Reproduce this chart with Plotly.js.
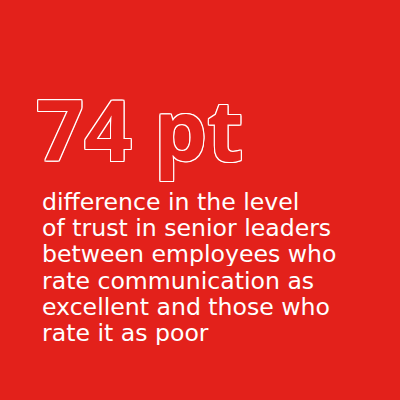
<!DOCTYPE html>
<html>
<head>
<meta charset="utf-8">
<script src="https://cdn.plot.ly/plotly-3.0.1.min.js"></script>
<style>html,body{margin:0;padding:0;background:#e3211b;}#chart{width:400px;height:400px;}</style>
</head>
<body>
<div id="chart"></div>
<script>
// Data
const statValue = 74;
const statUnit = "pt";
const descriptionLines = [
  "difference in the level",
  "of trust in senior leaders",
  "between employees who",
  "rate communication as",
  "excellent and those who",
  "rate it as poor"
];

const W = 400, H = 400;
const bg = "#e3211b";
const py = px => 1 - px / H;

const outline = "1px 0 0 #fff, -1px 0 0 #fff, 0 1px 0 #fff, 0 -1px 0 #fff, 1px 1px 0 #fff, -1px -1px 0 #fff, 1px -1px 0 #fff, -1px 1px 0 #fff";

const annotations = [];
annotations.push({
  xref: "paper", yref: "paper", x: 34 / W, y: py(128),
  xanchor: "left", yanchor: "middle", showarrow: false,
  text: "<b>" + statValue + " " + statUnit + "</b>",
  font: { family: "Open Sans, sans-serif", size: 84, color: bg, shadow: outline }
});
const lineStart = 202, lineStep = 26.2;
descriptionLines.forEach((t, i) => {
  annotations.push({
    xref: "paper", yref: "paper", x: 40 / W, y: py(lineStart + i * lineStep),
    xanchor: "left", yanchor: "middle", showarrow: false, height: 24,
    text: t,
    font: { family: "DejaVu Sans, sans-serif", size: 23.6, color: "#ffffff" }
  });
});

Plotly.newPlot("chart", [], {
  width: W, height: H,
  margin: { l: 0, r: 0, t: 0, b: 0 },
  paper_bgcolor: bg, plot_bgcolor: bg,
  xaxis: { visible: false, range: [0, 1] },
  yaxis: { visible: false, range: [0, 1] },
  annotations: annotations,
  showlegend: false
}, { displayModeBar: false, staticPlot: true });
</script>
</body>
</html>
